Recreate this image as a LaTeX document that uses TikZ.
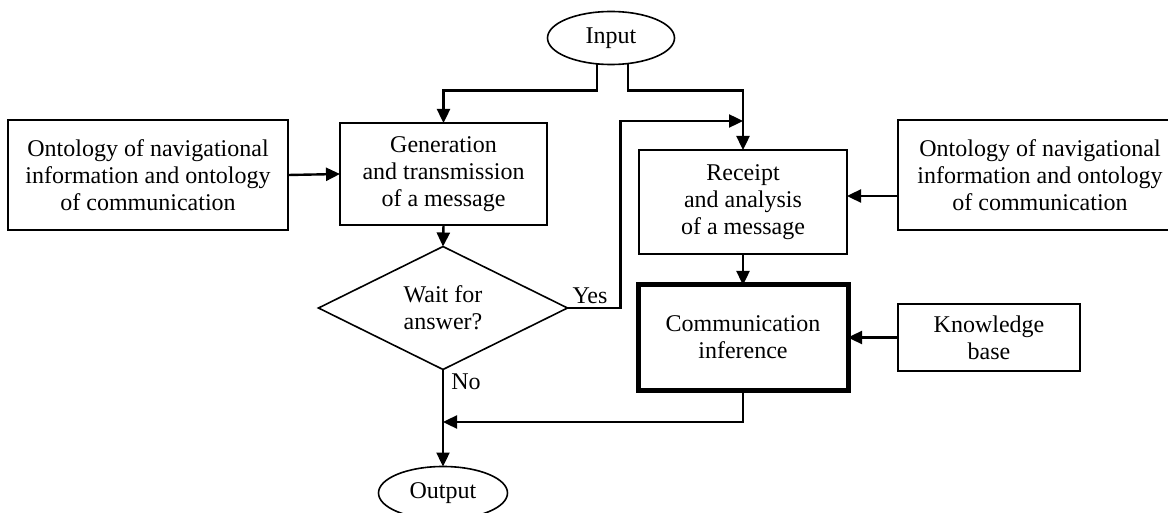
\documentclass[tikz,border=0pt]{standalone}
\usepackage{fontspec}
\setmainfont{Liberation Serif}
\usetikzlibrary{shapes.geometric,arrows.meta,calc}
\begin{document}
\begin{tikzpicture}[x=1pt,y=-1pt,
  txt/.style={font=\fontsize{24}{27}\selectfont, align=center},
  box/.style={txt, draw, line width=1.6pt, rectangle, inner sep=0pt, outer sep=0pt},
  oval/.style={txt, draw, line width=1.6pt, ellipse, inner sep=0pt, outer sep=0pt},
  arr/.style={line width=2.4pt, -{Triangle[length=14pt,width=13pt]}},
  ln/.style={line width=2.4pt}]
\useasboundingbox (0,0) rectangle (1168,513);
\node[oval, minimum width=127pt, minimum height=53pt] (in) at (611,38) {Input};
\node[box, minimum width=207pt, minimum height=102pt] (gen) at (443.5,174) {Generation\\and transmission\\of a message};
\node[box, minimum width=208pt, minimum height=104pt] (rec) at (743,202) {Receipt\\and analysis\\of a message};
\node[box, line width=5pt, minimum width=210pt, minimum height=105pt] (com) at (743,337.5) {Communication\\inference};
\node[box, minimum width=182pt, minimum height=67pt] (kb) at (989,337.5) {Knowledge\\base};
\node[box, minimum width=280pt, minimum height=110pt] (ontl) at (148,175) {Ontology of navigational\\information and ontology\\of communication};
\node[box, minimum width=284pt, minimum height=110pt] (ontr) at (1040,175) {Ontology of navigational\\information and ontology\\of communication};
\node[txt, draw, line width=1.6pt, diamond, minimum width=249pt, minimum height=108pt, inner sep=0pt, outer sep=0pt] (dia) at (443,308) {Wait for\\answer?};
\node[oval, minimum width=129pt, minimum height=53pt] (out) at (443,493) {Output};
\node[txt] (yes) at (590,296) {Yes};
\node[txt] (no) at (466,382) {No};
\coordinate (join) at (443,422);

\draw[arr] ([xshift=-14pt]in.south) -- ++(0,26) -| (gen.north);
\draw[arr] ([xshift=17pt]in.south) -- ++(0,26) -| (rec.north);
\draw[arr] (ontl.east) -- (gen.west);
\draw[arr] (gen.south) -- (dia.north);
\draw[arr] (dia.east) -- ++(53,0) |- ([yshift=29pt]rec.north);
\draw[arr] (ontr.west |- 0,196) -- (rec.east |- 0,196);
\draw[arr] (rec.south) -- (com.north);
\draw[arr] (kb.west) -- (com.east);
\draw[arr] (dia.south) -- (out.north);
\draw[arr] (com.south) |- (join);
\end{tikzpicture}
\end{document}
